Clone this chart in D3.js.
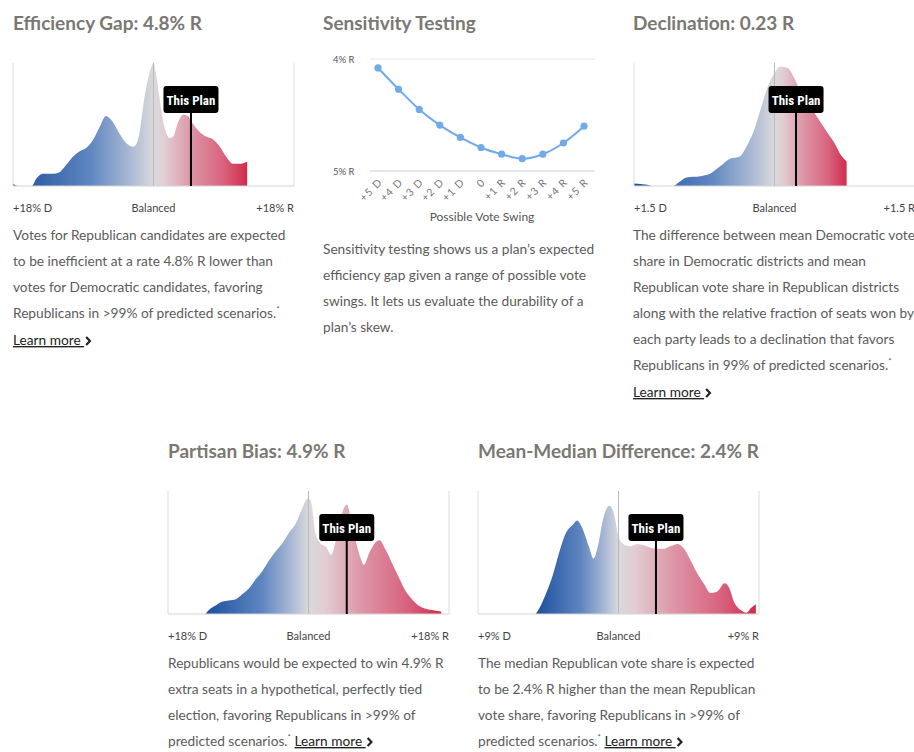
<!DOCTYPE html>
<html>
<head>
<meta charset="utf-8">
<script src="https://cdn.jsdelivr.net/npm/d3@7"></script>
<style>
  body { margin: 0; background: #fff; }
  text { font-family: Lato, "Open Sans", sans-serif; }
</style>
</head>
<body>
<div id="chart"></div>
<script>
// ---- data ----
// efficiency gap distribution (% , relative density)
const egX = [-18, -17.4, -15.6, -15, -14.2, -12.9, -12.1, -11.2, -10.3, -9.5, -8.6, -7.7, -6.9, -6.1, -5.2, -4.4, -3.5, -2.6, -2.2, -1.8, -1.2, -0.5, 0, 0.3, 0.8, 1.4, 2.1, 2.5, 3.1, 3.8, 4.4, 5.0, 5.9, 6.8, 7.6, 8.5, 9.3, 10.2, 11.0, 12.0];
const egY = [0.02, 0, 0, 0.06, 0.10, 0.10, 0.11, 0.17, 0.24, 0.28, 0.31, 0.38, 0.48, 0.57, 0.52, 0.43, 0.35, 0.32, 0.34, 0.43, 0.70, 0.92, 1.0, 0.92, 0.70, 0.48, 0.39, 0.40, 0.51, 0.58, 0.57, 0.51, 0.44, 0.40, 0.38, 0.32, 0.24, 0.18, 0.18, 0.20];

// declination distribution
const decX = [-1.5, -1.36, -1.31, -1.08, -1.02, -0.94, -0.79, -0.69, -0.58, -0.48, -0.37, -0.30, -0.22, -0.15, -0.08, 0, 0.06, 0.14, 0.21, 0.28, 0.35, 0.42, 0.49, 0.56, 0.64, 0.71, 0.77];
const decY = [0.02, 0.01, 0, 0, 0.03, 0.07, 0.08, 0.10, 0.16, 0.22, 0.24, 0.32, 0.45, 0.62, 0.79, 0.92, 0.97, 0.96, 0.88, 0.76, 0.67, 0.60, 0.52, 0.44, 0.35, 0.25, 0.20];

// partisan bias distribution
const pbX = [-13.2, -12.8, -11.9, -11.1, -10.2, -9.3, -8.5, -7.6, -6.8, -5.9, -5.1, -4.2, -3.3, -2.5, -1.6, -0.8, -0.1, 0.3, 0.9, 1.6, 2.2, 2.9, 3.5, 4.2, 4.9, 5.5, 6.1, 6.7, 7.1, 7.8, 8.7, 9.1, 9.9, 10.8, 11.7, 12.5, 13.4, 14.3, 15.1, 16.0, 17.0];
const pbY = [0, 0.03, 0.07, 0.10, 0.11, 0.12, 0.16, 0.21, 0.28, 0.35, 0.43, 0.51, 0.58, 0.66, 0.74, 0.86, 0.94, 0.92, 0.65, 0.57, 0.55, 0.48, 0.60, 0.80, 0.89, 0.75, 0.58, 0.45, 0.40, 0.50, 0.59, 0.60, 0.52, 0.40, 0.28, 0.18, 0.11, 0.06, 0.04, 0.03, 0.02];

// mean-median distribution
const mmX = [-5.3, -5.05, -4.6, -4.2, -3.8, -3.4, -2.9, -2.65, -2.4, -1.9, -1.6, -1.3, -0.97, -0.58, -0.3, 0, 0.3, 0.75, 1.2, 1.6, 2.0, 2.4, 2.9, 3.3, 3.8, 4.2, 4.6, 5.05, 5.5, 5.9, 6.3, 6.8, 7.1, 7.4, 7.85, 8.2, 8.5, 8.8];
const mmY = [0, 0.05, 0.18, 0.32, 0.50, 0.65, 0.73, 0.76, 0.72, 0.55, 0.45, 0.56, 0.78, 0.88, 0.82, 0.63, 0.57, 0.55, 0.57, 0.56, 0.54, 0.53, 0.53, 0.55, 0.57, 0.53, 0.44, 0.33, 0.24, 0.17, 0.18, 0.25, 0.21, 0.10, 0.03, 0.01, 0.05, 0.08];

// sensitivity testing
const swingLabels = ["+5 D", "+4 D", "+3 D", "+2 D", "+1 D", "0", "+1 R", "+2 R", "+3 R", "+4 R", "+5 R"];
const swingValues = [4.08, 4.27, 4.45, 4.59, 4.70, 4.79, 4.85, 4.89, 4.85, 4.75, 4.60];
const swingTicks = [4, 5];

// ---- page ----
const width = 914, height = 752;
const boxW = 281, boxH = 123;

const svg = d3.select("#chart").append("svg")
    .attr("width", width)
    .attr("height", height);
const defs = svg.append("defs");

const titleColor = "#7a7873", textColor = "#5b5b5b";

function title(x, y, str) {
    svg.append("text")
        .attr("x", x).attr("y", y)
        .attr("font-size", 19).attr("font-weight", 700)
        .attr("fill", titleColor)
        .text(str);
}

function chevron(x, y) {
    svg.append("path")
        .attr("d", `M${x},${y - 8} L${x + 3.8},${y - 4} L${x},${y}`)
        .attr("fill", "none").attr("stroke", "#222").attr("stroke-width", 2.2);
}

function learnText(t) {
    return t.append("tspan").attr("fill", "#222")
        .style("text-decoration", "underline")
        .attr("xml:space", "preserve")
        .text("Learn more\u00a0");
}

function paragraph(x, y, lines, learnMore) {
    lines.forEach((line, i) => {
        const t = svg.append("text")
            .attr("x", x).attr("y", y + i * 26)
            .attr("font-size", 13.7).attr("fill", textColor);
        const parts = line.split("*");
        t.append("tspan").text(parts[0]);
        if (parts.length > 1) {
            t.append("tspan").attr("font-size", 8).attr("dy", -6).text("*");
            if (learnMore === "inline") {
                t.append("tspan").attr("dy", 6).text("\u00a0");
                learnText(t);
                const end = t.node().getComputedTextLength();
                chevron(x + end + 2, y + i * 26);
            }
        }
    });
    if (learnMore === "below") {
        const ly = y + lines.length * 26 + 1;
        const t = svg.append("text")
            .attr("x", x).attr("y", ly)
            .attr("font-size", 13.7);
        learnText(t);
        chevron(x + t.node().getComputedTextLength() + 2, ly);
    }
}

function densityPanel(p) {
    const x = d3.scaleLinear().domain([-p.ext, p.ext]).range([p.left, p.left + boxW]);
    const y = d3.scaleLinear().domain([0, 1]).range([p.top + boxH, p.top]);
    const data = p.xs.map((v, i) => [v, p.ys[i]]);

    // horizontal blue -> grey -> red gradient across the distribution
    const x0 = x(p.xs[0]), x1 = x(p.xs[p.xs.length - 1]);
    const fc = (x(0) - x0) / (x1 - x0);
    const grad = defs.append("linearGradient")
        .attr("id", "grad-" + p.key)
        .attr("gradientUnits", "userSpaceOnUse")
        .attr("x1", x0).attr("x2", x1).attr("y1", 0).attr("y2", 0);
    const L = f => fc * f, R = f => fc + (1 - fc) * f;
    [[0, "#1d4f9f"], [L(0.55), "#5f86c0"], [L(0.85), "#aebcd5"], [fc, "#d9d9dc"],
     [R(0.12), "#e2cdd3"], [R(0.4), "#dd95a7"], [R(0.75), "#d8627d"], [1, "#d22b4b"]]
        .forEach(s => grad.append("stop").attr("offset", s[0]).attr("stop-color", s[1]));

    const g = svg.append("g");
    g.append("path")
        .datum(data)
        .attr("fill", `url(#grad-${p.key})`)
        .attr("d", d3.area()
            .x(d => x(d[0]))
            .y0(y(0))
            .y1(d => y(d[1]))
            .curve(d3.curveMonotoneX));

    // frame
    g.append("line").attr("x1", x(-p.ext)).attr("x2", x(-p.ext)).attr("y1", p.top).attr("y2", p.top + boxH)
        .attr("stroke", "#ddd");
    g.append("line").attr("x1", x(p.ext)).attr("x2", x(p.ext)).attr("y1", p.top).attr("y2", p.top + boxH)
        .attr("stroke", "#ddd");
    g.append("line").attr("x1", x(0)).attr("x2", x(0)).attr("y1", p.top).attr("y2", p.top + boxH)
        .attr("stroke", "#b8b8b8");
    g.append("line").attr("x1", x(-p.ext)).attr("x2", x(p.ext)).attr("y1", p.top + boxH).attr("y2", p.top + boxH)
        .attr("stroke", "#d4d4d4");

    // this plan marker
    const px = x(p.plan);
    g.append("line").attr("x1", px).attr("x2", px).attr("y1", p.top + 40).attr("y2", p.top + boxH)
        .attr("stroke", "#000").attr("stroke-width", 2);
    g.append("rect").attr("x", px - 27.5).attr("y", p.top + 23).attr("width", 55).attr("height", 27)
        .attr("rx", 3).attr("fill", "#000");
    g.append("text").attr("x", px).attr("y", p.top + 41.5)
        .attr("text-anchor", "middle").attr("fill", "#fff")
        .attr("font-size", 13).attr("font-weight", 700)
        .style("font-family", "'Liberation Sans Narrow', 'Roboto Condensed', Roboto, sans-serif")
        .text("This Plan");

    // axis labels
    const ly = p.top + 149;
    g.append("text").attr("x", x(-p.ext)).attr("y", ly).attr("font-size", 11).attr("fill", "#444")
        .text(p.labels[0]);
    g.append("text").attr("x", x(0)).attr("y", ly).attr("font-size", 11).attr("fill", "#444")
        .attr("text-anchor", "middle").text("Balanced");
    g.append("text").attr("x", x(p.ext)).attr("y", ly).attr("font-size", 11).attr("fill", "#444")
        .attr("text-anchor", "end").text(p.labels[1]);
}

// ---- efficiency gap ----
title(13, 30, "Efficiency Gap: 4.8% R");
densityPanel({ key: "eg", left: 13, top: 63, ext: 18, xs: egX, ys: egY, plan: 4.8, labels: ["+18% D", "+18% R"] });
paragraph(13, 240, [
    "Votes for Republican candidates are expected",
    "to be inefficient at a rate 4.8% R lower than",
    "votes for Democratic candidates, favoring",
    "Republicans in >99% of predicted scenarios.*"
], "below");

// ---- sensitivity testing ----
title(323, 30, "Sensitivity Testing");
{
    const sx = d3.scalePoint().domain(swingLabels).range([378, 584]);
    const sy = d3.scaleLinear().domain([4, 5]).range([59, 171]);
    const g = svg.append("g");
    g.selectAll(".grid").data(swingTicks).enter().append("line")
        .attr("x1", 370).attr("x2", 595)
        .attr("y1", d => sy(d)).attr("y2", d => sy(d))
        .attr("stroke", d => d === 5 ? "#c9cde0" : "#e6e6e6");
    g.selectAll(".ylab").data(swingTicks).enter().append("text")
        .attr("x", 333).attr("y", d => sy(d) + 3.5)
        .attr("font-size", 9.5).attr("fill", "#555")
        .text(d => d + "% R");
    g.append("path")
        .datum(swingValues)
        .attr("fill", "none").attr("stroke", "#72aae8").attr("stroke-width", 2)
        .attr("d", d3.line().x((d, i) => sx(swingLabels[i])).y(d => sy(d)).curve(d3.curveMonotoneX));
    g.selectAll(".pt").data(swingValues).enter().append("circle")
        .attr("cx", (d, i) => sx(swingLabels[i])).attr("cy", d => sy(d))
        .attr("r", 3.6).attr("fill", "#72aae8");
    g.selectAll(".xlab").data(swingLabels).enter().append("text")
        .attr("transform", d => `translate(${sx(d) + 5},${183}) rotate(-45)`)
        .attr("text-anchor", "end")
        .attr("font-size", 10.5).attr("fill", "#777")
        .attr("letter-spacing", 1)
        .text(d => d);
    g.append("text").attr("x", 482).attr("y", 221)
        .attr("text-anchor", "middle").attr("font-size", 12).attr("fill", "#555")
        .text("Possible Vote Swing");
}
paragraph(323, 254, [
    "Sensitivity testing shows us a plan\u2019s expected",
    "efficiency gap given a range of possible vote",
    "swings. It lets us evaluate the durability of a",
    "plan\u2019s skew."
], null);

// ---- declination ----
title(633, 30, "Declination: 0.23 R");
densityPanel({ key: "dec", left: 634, top: 63, ext: 1.5, xs: decX, ys: decY, plan: 0.23, labels: ["+1.5 D", "+1.5 R"] });
paragraph(633, 240, [
    "The difference between mean Democratic vote",
    "share in Democratic districts and mean",
    "Republican vote share in Republican districts",
    "along with the relative fraction of seats won by",
    "each party leads to a declination that favors",
    "Republicans in 99% of predicted scenarios.*"
], "below");

// ---- partisan bias ----
title(168, 458, "Partisan Bias: 4.9% R");
densityPanel({ key: "pb", left: 168, top: 491, ext: 18, xs: pbX, ys: pbY, plan: 4.9, labels: ["+18% D", "+18% R"] });
paragraph(168, 668, [
    "Republicans would be expected to win 4.9% R",
    "extra seats in a hypothetical, perfectly tied",
    "election, favoring Republicans in >99% of",
    "predicted scenarios.*"
], "inline");

// ---- mean-median ----
title(478, 458, "Mean-Median Difference: 2.4% R");
densityPanel({ key: "mm", left: 478, top: 491, ext: 9, xs: mmX, ys: mmY, plan: 2.4, labels: ["+9% D", "+9% R"] });
paragraph(478, 668, [
    "The median Republican vote share is expected",
    "to be 2.4% R higher than the mean Republican",
    "vote share, favoring Republicans in >99% of",
    "predicted scenarios.*"
], "inline");
</script>
</body>
</html>
